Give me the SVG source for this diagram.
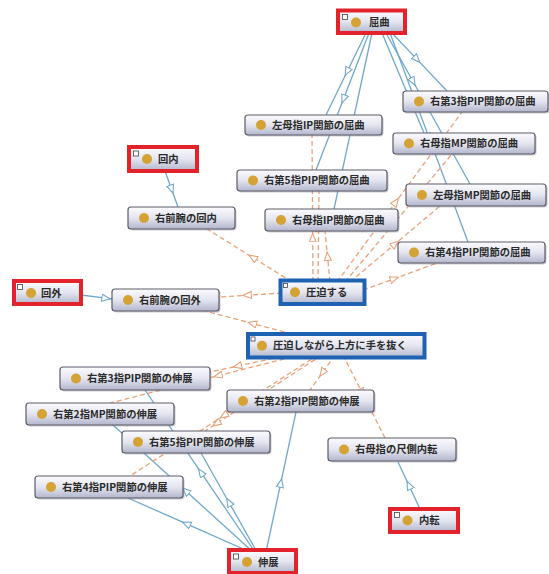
<svg xmlns="http://www.w3.org/2000/svg" width="549" height="574" viewBox="0 0 549 574">
<style>
.b{fill:url(#g);stroke:#5c5c68;stroke-width:1.2}
.hb{fill:url(#g);stroke:none}
.sh{fill:#8c8c9a;opacity:.45}
.dot{fill:#d4a235}
.t{font-family:"Noto Sans CJK JP","Noto Sans CJK SC",sans-serif;font-size:10.3px;font-weight:bold;fill:#2a2a2a}
.red{fill:none;stroke:#e3232c;stroke-width:4}
.blue{fill:none;stroke:#1d62b3;stroke-width:4}
.ic{fill:#fff;stroke:#444;stroke-width:.8}
.isa{fill:none;stroke:#6fa8cc;stroke-width:1.3;marker-mid:url(#ab)}
.rel{fill:none;stroke:#e8a27a;stroke-width:1.3;stroke-dasharray:5 3;marker-mid:url(#ao)}
</style>
<defs>
<linearGradient id="g" x1="0" y1="0" x2="0" y2="1">
<stop offset="0" stop-color="#fbfbfe"/>
<stop offset="0.5" stop-color="#e4e5ef"/>
<stop offset="1" stop-color="#b2b6cd"/>
</linearGradient>
<marker id="ab" markerUnits="userSpaceOnUse" markerWidth="12" markerHeight="12" refX="4.5" refY="4" orient="auto">
<path d="M0.5,0.5 L9,4 L0.5,7.5 Z" fill="#fff" stroke="#6fa8cc" stroke-width="1.1"/>
</marker>
<marker id="ao" markerUnits="userSpaceOnUse" markerWidth="12" markerHeight="12" refX="4.5" refY="4" orient="auto">
<path d="M0.5,0.5 L9,4 L0.5,7.5 Z" fill="#fff" stroke="#e8a27a" stroke-width="1.1"/>
</marker>
</defs>
<rect width="549" height="574" fill="#fff"/>
<g id="connectors">
<path class="isa" d="M366,33 L347.2,71.5 L326,115"/>
<path class="isa" d="M369,33 L343.6,98.8 L316,170"/>
<path class="isa" d="M372,33 L353,121 L334,209"/>
<path class="isa" d="M392,33 L416.75,59.1 L447,91"/>
<path class="isa" d="M382,33 L410.1,100 L424,133"/>
<path class="isa" d="M386,33 L412.9,81.3 L470,184"/>
<path class="isa" d="M390,33 L429,137.5 L468,242"/>
<path class="isa" d="M165,171 L171.5,189 L178,207"/>
<path class="isa" d="M81,295 L105.8,298.2 L112,299"/>
<path class="isa" d="M250,552 L186.6,523.9 L128,498"/>
<path class="isa" d="M253,552 L185.8,491 L113,425"/>
<path class="isa" d="M255,552 L201.1,472.6 L145,390"/>
<path class="isa" d="M257,552 L229,502.5 L201,453"/>
<path class="isa" d="M266,552 L280.7,483.4 L296,412"/>
<path class="isa" d="M420,509 L409,485.5 L398,462"/>
<path class="rel" d="M292,282 L252.9,257.6 L207,229"/>
<path class="rel" d="M282,293 L247.35,295.2 L219,297"/>
<path class="rel" d="M313,282 L312.7,237.9 L312,135"/>
<path class="rel" d="M318,282 L318.6,227.4 L319,191"/>
<path class="rel" d="M330,282 L327.5,256.5 L325,231"/>
<path class="rel" d="M337,282 L395.75,202.1 L462,112"/>
<path class="rel" d="M345,282 L417.8,195 L452,154"/>
<path class="rel" d="M350,282 L395,244 L440,206"/>
<path class="rel" d="M363,290 L394.1,278.7 L437,263"/>
<path class="rel" d="M300,336 L252.5,323.5 L205,311"/>
<path class="rel" d="M289,355 L237.65,366.05 L210,372"/>
<path class="rel" d="M300,355 L218.3,375.6 L110,403"/>
<path class="rel" d="M335,355 L322.5,372.5 L310,390"/>
<path class="rel" d="M322,355 L216.7,423.4 L205,431"/>
<path class="rel" d="M318,355 L224,415.5 L130,476"/>
<path class="rel" d="M343,355 L361.9,392.4 L385,438"/>
</g>
<g id="n-kukkyoku">
<rect class="hb" x="338" y="10.5" width="67" height="22.5"/>
<rect class="red" x="338" y="10.5" width="67" height="22.5"/>
<rect class="ic" x="342.5" y="14.5" width="5" height="5"/>
<circle class="dot" cx="356" cy="22.5" r="5"/>
<text class="t" x="369" y="26">屈曲</text>
</g>
<g id="n-r3pip-flex">
<rect class="sh" x="404.5" y="92.5" width="145" height="21" rx="3"/>
<rect class="b" x="403" y="91" width="145" height="21" rx="3"/>
<circle class="dot" cx="419" cy="101.5" r="5"/>
<text class="t" x="430" y="105.1">右第3指PIP関節の屈曲</text>
</g>
<g id="n-l1ip-flex">
<rect class="sh" x="246.5" y="116.5" width="137" height="20" rx="3"/>
<rect class="b" x="245" y="115" width="137" height="20" rx="3"/>
<circle class="dot" cx="261" cy="125" r="5"/>
<text class="t" x="272" y="128.6">左母指IP関節の屈曲</text>
</g>
<g id="n-r1mp-flex">
<rect class="sh" x="394.5" y="134.5" width="142" height="21" rx="3"/>
<rect class="b" x="393" y="133" width="142" height="21" rx="3"/>
<circle class="dot" cx="409" cy="143.5" r="5"/>
<text class="t" x="420" y="147.1">右母指MP関節の屈曲</text>
</g>
<g id="n-r5pip-flex">
<rect class="sh" x="238.5" y="171.5" width="150" height="21" rx="3"/>
<rect class="b" x="237" y="170" width="150" height="21" rx="3"/>
<circle class="dot" cx="253" cy="180.5" r="5"/>
<text class="t" x="264" y="184.1">右第5指PIP関節の屈曲</text>
</g>
<g id="n-l1mp-flex">
<rect class="sh" x="407.5" y="185.5" width="140" height="22" rx="3"/>
<rect class="b" x="406" y="184" width="140" height="22" rx="3"/>
<circle class="dot" cx="422" cy="195" r="5"/>
<text class="t" x="433" y="198.6">左母指MP関節の屈曲</text>
</g>
<g id="n-r1ip-flex">
<rect class="sh" x="266.5" y="210.5" width="133" height="22" rx="3"/>
<rect class="b" x="265" y="209" width="133" height="22" rx="3"/>
<circle class="dot" cx="281" cy="220" r="5"/>
<text class="t" x="292" y="223.6">右母指IP関節の屈曲</text>
</g>
<g id="n-r4pip-flex">
<rect class="sh" x="399.5" y="243.5" width="147" height="21" rx="3"/>
<rect class="b" x="398" y="242" width="147" height="21" rx="3"/>
<circle class="dot" cx="414" cy="252.5" r="5"/>
<text class="t" x="425" y="256.1">右第4指PIP関節の屈曲</text>
</g>
<g id="n-kainai">
<rect class="hb" x="129" y="147" width="68" height="24"/>
<rect class="red" x="129" y="147" width="68" height="24"/>
<rect class="ic" x="133.5" y="151" width="5" height="5"/>
<circle class="dot" cx="147" cy="159" r="5"/>
<text class="t" x="158" y="162.6">回内</text>
</g>
<g id="n-r-forearm-pron">
<rect class="sh" x="129.5" y="208.5" width="107" height="22" rx="3"/>
<rect class="b" x="128" y="207" width="107" height="22" rx="3"/>
<circle class="dot" cx="144" cy="218" r="5"/>
<text class="t" x="155" y="221.6">右前腕の回内</text>
</g>
<g id="n-kaigai">
<rect class="hb" x="14" y="281" width="67" height="23"/>
<rect class="red" x="14" y="281" width="67" height="23"/>
<rect class="ic" x="17.5" y="284.5" width="5" height="5"/>
<circle class="dot" cx="31" cy="293" r="5"/>
<text class="t" x="41" y="296.6">回外</text>
</g>
<g id="n-r-forearm-sup">
<rect class="sh" x="113.5" y="290.5" width="107" height="22" rx="3"/>
<rect class="b" x="112" y="289" width="107" height="22" rx="3"/>
<circle class="dot" cx="128" cy="300" r="5"/>
<text class="t" x="139" y="303.6">右前腕の回外</text>
</g>
<g id="n-appaku">
<rect class="hb" x="280.5" y="280.5" width="84" height="23.5"/>
<rect class="blue" x="280.5" y="280.5" width="84" height="23.5"/>
<rect class="ic" x="283.5" y="283.5" width="4" height="4"/>
<circle class="dot" cx="295" cy="292.3" r="5"/>
<text class="t" x="306" y="295.9">圧迫する</text>
</g>
<g id="n-appaku-nuku">
<rect class="hb" x="248" y="334" width="176.5" height="23.5"/>
<rect class="blue" x="248" y="334" width="176.5" height="23.5"/>
<rect class="ic" x="251" y="337" width="4" height="4"/>
<circle class="dot" cx="262" cy="345.8" r="5"/>
<text class="t" x="273" y="349.4">圧迫しながら上方に手を抜く</text>
</g>
<g id="n-r3pip-ext">
<rect class="sh" x="61.5" y="368.5" width="150" height="23" rx="3"/>
<rect class="b" x="60" y="367" width="150" height="23" rx="3"/>
<circle class="dot" cx="76" cy="378.5" r="5"/>
<text class="t" x="87" y="382.1">右第3指PIP関節の伸展</text>
</g>
<g id="n-r2mp-ext">
<rect class="sh" x="27.5" y="404.5" width="148" height="22" rx="3"/>
<rect class="b" x="26" y="403" width="148" height="22" rx="3"/>
<circle class="dot" cx="42" cy="414" r="5"/>
<text class="t" x="53" y="417.6">右第2指MP関節の伸展</text>
</g>
<g id="n-r2pip-ext">
<rect class="sh" x="228.5" y="391.5" width="147" height="22" rx="3"/>
<rect class="b" x="227" y="390" width="147" height="22" rx="3"/>
<circle class="dot" cx="243" cy="401" r="5"/>
<text class="t" x="254" y="404.6">右第2指PIP関節の伸展</text>
</g>
<g id="n-r5pip-ext">
<rect class="sh" x="123.5" y="432.5" width="148" height="22" rx="3"/>
<rect class="b" x="122" y="431" width="148" height="22" rx="3"/>
<circle class="dot" cx="138" cy="442" r="5"/>
<text class="t" x="149" y="445.6">右第5指PIP関節の伸展</text>
</g>
<g id="n-r1-uln-add">
<rect class="sh" x="329.5" y="439.5" width="128" height="23" rx="3"/>
<rect class="b" x="328" y="438" width="128" height="23" rx="3"/>
<circle class="dot" cx="344" cy="449.5" r="5"/>
<text class="t" x="355" y="453.1">右母指の尺側内転</text>
</g>
<g id="n-r4pip-ext">
<rect class="sh" x="36.5" y="477.5" width="148" height="22" rx="3"/>
<rect class="b" x="35" y="476" width="148" height="22" rx="3"/>
<circle class="dot" cx="51" cy="487" r="5"/>
<text class="t" x="62" y="490.6">右第4指PIP関節の伸展</text>
</g>
<g id="n-naiten">
<rect class="hb" x="390" y="509" width="68" height="23"/>
<rect class="red" x="390" y="509" width="68" height="23"/>
<rect class="ic" x="394.5" y="512.5" width="5" height="5"/>
<circle class="dot" cx="407.5" cy="520.5" r="5"/>
<text class="t" x="419" y="524.1">内転</text>
</g>
<g id="n-shinten">
<rect class="hb" x="229" y="550" width="67" height="23"/>
<rect class="red" x="229" y="550" width="67" height="23"/>
<rect class="ic" x="233.5" y="554" width="5" height="5"/>
<circle class="dot" cx="247" cy="562" r="5"/>
<text class="t" x="258" y="565.6">伸展</text>
</g>
</svg>
